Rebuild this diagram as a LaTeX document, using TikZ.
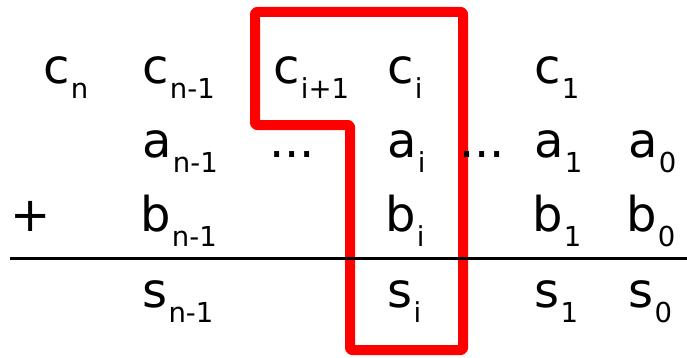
\documentclass[tikz,border=0pt]{standalone}
\usepackage{fontspec}
\setmainfont{DejaVu Sans}
\newcommand\trm[2]{#1\kern1.5pt\raisebox{-15pt}{\fontsize{27.5}{27.5}\selectfont #2}}
\tikzset{
  lbl/.style={anchor=base west, inner sep=0pt, outer sep=0pt, font=\fontsize{48}{48}\selectfont},
  box/.style={draw=red, line width=10pt, line join=round, rounded corners=2pt},
  bar/.style={draw=black, line width=3pt}
}
\begin{document}
\begin{tikzpicture}[x=1pt,y=1pt]
\useasboundingbox (0,0) rectangle (687,357);
% red outline
\draw[box] (255,345) -- (463,345) -- (463,7) -- (350,7) -- (350,232) -- (255,232) -- cycle;
% row c
\node[lbl] (cn)  at (43,274) {\trm{c}{n}};
\node[lbl] (cn1) at (142,274) {\trm{c}{n-1}};
\node[lbl] (ci1) at (273,274) {\trm{c}{i+1}};
\node[lbl] (ci)  at (387,274) {\trm{c}{i}};
\node[lbl] (c1)  at (534,274) {\trm{c}{1}};
% row a
\node[lbl] (an1) at (142,200) {\trm{a}{n-1}};
\node[lbl] (d1)  at (269,200) {...};
\node[lbl] (ai)  at (387,200) {\trm{a}{i}};
\node[lbl] (d2)  at (459,200) {...};
\node[lbl] (a1)  at (534,200) {\trm{a}{1}};
\node[lbl] (a0)  at (628,200) {\trm{a}{0}};
% row b
\node[lbl] (plus) at (10,126) {+};
\node[lbl] (bn1) at (140,126) {\trm{b}{n-1}};
\node[lbl] (bi)  at (385,126) {\trm{b}{i}};
\node[lbl] (b1)  at (532,126) {\trm{b}{1}};
\node[lbl] (b0)  at (626,126) {\trm{b}{0}};
% bar
\coordinate (barL) at (10,99);
\coordinate (barR) at (687,99);
\draw[bar] (barL) -- (barR);
% row s
\node[lbl] (sn1) at (142,50) {\trm{s}{n-1}};
\node[lbl] (si)  at (387,50) {\trm{s}{i}};
\node[lbl] (s1)  at (534,50) {\trm{s}{1}};
\node[lbl] (s0)  at (628,50) {\trm{s}{0}};
\end{tikzpicture}
\end{document}
